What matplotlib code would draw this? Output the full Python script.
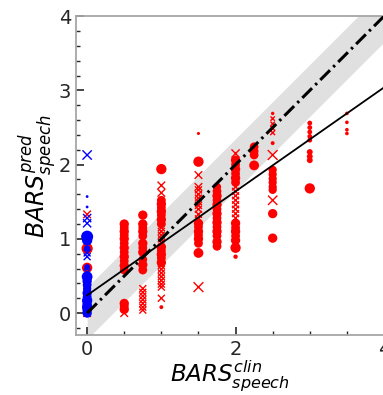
import matplotlib
matplotlib.use("Agg")
import matplotlib.pyplot as plt
import numpy as np

# identity line, tolerance band and fitted regression line
band_halfwidth = 0.35
fit_intercept = 0.24
fit_slope = 0.70
line_x = [0.0, 4.0]

# healthy controls (clin = 0), blue
blue_o_y = [1.57, 1.43, 1.03, 0.98, 0.87, 0.62, 0.49, 0.43, 0.38, 0.33, 0.27, 0.22, 0.17, 0.12, 0.08, 0.04, 0.0]
blue_o_s = [4, 4, 75, 55, 22, 18, 60, 45, 40, 35, 45, 40, 55, 45, 55, 45, 45]
blue_x_y = [2.13, 1.28, 1.21, 0.81, 0.76, 0.55]
blue_x_s = [45, 35, 35, 25, 25, 22]

# patients, red circles
red_o_x = ([0.0] * 3 + [0.5] * 15 + [0.75] * 11 + [1.0] * 14 + [1.5] * 9 + [1.75] * 14
           + [2.0] * 13 + [2.25] * 4 + [2.5] * 11 + [3.0] * 9 + [3.5] * 4)
red_o_y = ([0.87, 0.61, 0.3]
           + [1.2, 1.15, 1.1, 1.05, 1.0, 0.94, 0.88, 0.82, 0.76, 0.7, 0.64, 0.58, 0.13, 0.09, 0.05]
           + [1.32, 1.2, 1.15, 1.1, 1.04, 0.94, 0.88, 0.82, 0.72, 0.65, 0.58]
           + [1.94, 1.52, 1.47, 1.42, 1.37, 1.32, 1.26, 1.2, 0.89, 0.84, 0.79, 0.74, 0.68, 0.08]
           + [2.42, 2.04, 1.21, 1.16, 1.1, 1.05, 1.0, 0.94, 0.81]
           + [1.7, 1.64, 1.58, 1.52, 1.46, 1.4, 1.34, 1.28, 1.22, 1.16, 1.1, 1.04, 0.96, 0.9]
           + [2.06, 2.0, 1.94, 1.88, 1.82, 1.76, 1.21, 1.15, 1.1, 1.04, 0.98, 0.88, 0.76]
           + [2.24, 2.18, 2.13, 1.99]
           + [2.69, 2.29, 1.93, 1.87, 1.81, 1.76, 1.7, 1.66, 1.34, 1.01, 1.52]
           + [2.56, 2.5, 2.44, 2.38, 2.33, 2.17, 2.11, 2.06, 1.68]
           + [2.69, 2.57, 2.47, 2.42])
red_o_s = ([65, 55, 30]
           + [45, 40, 45, 40, 45, 40, 45, 40, 45, 40, 45, 40, 45, 40, 45]
           + [45, 45, 40, 45, 40, 45, 40, 45, 40, 45, 40]
           + [55, 40, 45, 40, 45, 40, 45, 40, 45, 40, 45, 40, 45, 8]
           + [5, 55, 45, 40, 45, 40, 45, 40, 50]
           + [35, 40, 45, 40, 45, 40, 45, 40, 45, 40, 45, 40, 45, 40]
           + [45, 40, 45, 40, 45, 40, 45, 40, 45, 40, 45, 55, 10]
           + [40, 40, 40, 50]
           + [6, 8, 35, 35, 35, 35, 35, 35, 45, 45, 0]
           + [12, 12, 12, 12, 12, 18, 18, 18, 55]
           + [7, 7, 7, 7])

# patients, red crosses
red_x_x = ([0.0] * 2 + [0.5] + [0.75] * 7 + [1.0] * 15 + [1.5] * 11 + [2.0] * 9 + [2.5] * 6)
red_x_y = ([1.33, 0.0]
           + [0.0]
           + [0.33, 0.28, 0.23, 0.18, 0.13, 0.08, 0.04]
           + [1.72, 1.62, 1.15, 1.1, 1.05, 1.0, 0.95, 0.64, 0.59, 0.54, 0.49, 0.44, 0.39, 0.35, 0.2]
           + [1.86, 1.7, 1.66, 1.6, 1.55, 1.5, 1.45, 1.4, 1.33, 1.27, 0.35]
           + [2.15, 1.7, 1.64, 1.58, 1.52, 1.46, 1.4, 1.34, 1.28]
           + [2.62, 2.55, 2.49, 2.43, 2.13, 1.52])
red_x_s = ([30, 30]
           + [30]
           + [25, 25, 25, 25, 25, 25, 25]
           + [30, 30, 25, 25, 25, 25, 25, 25, 25, 25, 25, 25, 25, 25, 25]
           + [30, 30, 25, 25, 25, 25, 25, 25, 25, 25, 50]
           + [35, 25, 25, 25, 25, 25, 25, 25, 25]
           + [10, 10, 12, 12, 50, 45])

fig = plt.figure(figsize=(3.83, 3.95), dpi=100)
ax = fig.add_axes([76 / 383, 0.151, 308 / 383, 0.808])

lx = np.array(line_x)
ax.fill_between(lx, lx - band_halfwidth, lx + band_halfwidth, color='0.88', lw=0, zorder=1)

ax.scatter(red_o_x, red_o_y, s=red_o_s, c='red', marker='o', lw=0, zorder=2)
ax.scatter(red_x_x, red_x_y, s=red_x_s, c='red', marker='x', lw=1.0, zorder=2)
ax.scatter([0.0] * len(blue_o_y), blue_o_y, s=blue_o_s, c='blue', marker='o', lw=0, zorder=3)
ax.scatter([0.0] * len(blue_x_y), blue_x_y, s=blue_x_s, c='blue', marker='x', lw=1.0, zorder=3)

ax.plot(lx, lx, color='black', lw=2.2, linestyle=(0, (4.5, 1.5, 0.8, 1.5)), zorder=4)
ax.plot(lx, fit_intercept + fit_slope * lx, color='black', lw=1.3, zorder=4)

ax.set_xlim(-0.15, 4.0)
ax.set_ylim(-0.3, 4.0)
ax.set_xticks([0, 2, 4])
ax.set_xticks(np.arange(0, 4.01, 0.5), minor=True)
ax.set_yticks([0, 1, 2, 3, 4])
ax.set_yticks(np.arange(-0.2, 4.01, 0.2), minor=True)
ax.tick_params(which='both', direction='in', colors='0.15', labelsize=14)
ax.tick_params(which='major', length=6, width=1.2)
ax.tick_params(which='minor', length=3, width=1.0)

for side in ['left', 'top', 'bottom']:
    ax.spines[side].set_color('0.65')
    ax.spines[side].set_linewidth(1.3)
ax.spines['right'].set_visible(False)

ax.set_xlabel(r'$BARS^{clin}_{speech}$', fontsize=16.5)
ax.set_ylabel(r'$BARS^{pred}_{speech}$', fontsize=17)
ax.xaxis.set_label_coords(0.5, -0.071)
ax.yaxis.set_label_coords(-0.055, 0.5)

fig.savefig('out.png', dpi=100)
